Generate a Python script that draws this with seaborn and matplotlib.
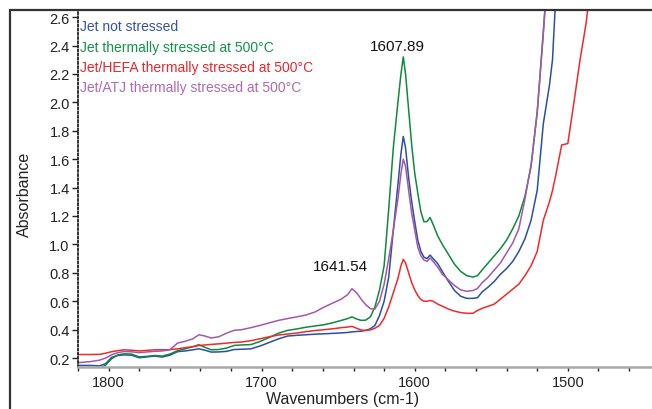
import numpy as np
import pandas as pd
import matplotlib
matplotlib.use("Agg")
import matplotlib.pyplot as plt
from matplotlib.patches import Rectangle
from matplotlib.ticker import MultipleLocator
import seaborn as sns

# wavenumber grid (cm-1)
wavenumber = [1820, 1812, 1806, 1802, 1798, 1794, 1790, 1785, 1780, 1775, 1770, 1765,
              1760, 1755, 1750, 1745, 1741, 1737, 1733, 1728, 1723, 1718, 1713, 1707,
              1701, 1695, 1689, 1683, 1677, 1671, 1665, 1659, 1653, 1648, 1644, 1641,
              1638, 1635, 1632, 1629, 1626, 1623, 1620, 1617, 1614, 1611, 1609, 1607.5,
              1606, 1604, 1602, 1600, 1598, 1596, 1594, 1592, 1590, 1588, 1585, 1582,
              1578, 1574, 1570, 1566, 1562, 1559, 1556, 1552, 1548, 1544, 1540, 1536,
              1532, 1528, 1524, 1520, 1516, 1512, 1510, 1508, 1504, 1500, 1496, 1492,
              1488, 1484]

nan = np.nan
jet_not_stressed = [0.148, 0.148, 0.145, 0.16, 0.205, 0.218, 0.222, 0.22, 0.202, 0.208, 0.214, 0.207,
                    0.22, 0.245, 0.25, 0.258, 0.265, 0.255, 0.242, 0.243, 0.247, 0.26, 0.262, 0.265,
                    0.285, 0.31, 0.335, 0.355, 0.36, 0.364, 0.368, 0.371, 0.374, 0.377, 0.38, 0.384,
                    0.387, 0.389, 0.395, 0.406, 0.43, 0.5, 0.6, 0.77, 1.1, 1.42, 1.64, 1.76,
                    1.68, 1.47, 1.3, 1.16, 1.03, 0.95, 0.91, 0.9, 0.925, 0.9, 0.865, 0.81,
                    0.74, 0.675, 0.635, 0.62, 0.62, 0.625, 0.665, 0.7, 0.74, 0.79, 0.83, 0.88,
                    0.95, 1.04, 1.17, 1.38, 1.85, 2.12, 2.3, 2.72, 3.4, nan, nan, nan,
                    nan, nan]
jet_stressed = [0.12, 0.12, 0.125, 0.15, 0.195, 0.222, 0.23, 0.228, 0.208, 0.212, 0.218, 0.214,
                0.228, 0.252, 0.265, 0.28, 0.294, 0.275, 0.258, 0.26, 0.27, 0.289, 0.292, 0.295,
                0.317, 0.345, 0.375, 0.395, 0.405, 0.417, 0.426, 0.435, 0.45, 0.465, 0.477, 0.49,
                0.475, 0.465, 0.467, 0.49, 0.56, 0.68, 0.85, 1.25, 1.68, 2.0, 2.2, 2.32,
                2.2, 1.95, 1.7, 1.5, 1.36, 1.23, 1.16, 1.16, 1.19, 1.14, 1.06, 1.0,
                0.93, 0.86, 0.81, 0.78, 0.77, 0.78, 0.82, 0.87, 0.92, 0.97, 1.03, 1.11,
                1.2, 1.34, 1.55, 1.93, 2.5, 3.1, nan, nan, nan, nan, nan, nan,
                nan, nan]
hefa_stressed = [0.225, 0.225, 0.226, 0.234, 0.245, 0.252, 0.258, 0.255, 0.25, 0.254, 0.258, 0.258,
                 0.259, 0.265, 0.273, 0.28, 0.288, 0.292, 0.296, 0.3, 0.305, 0.31, 0.313, 0.322,
                 0.336, 0.35, 0.362, 0.369, 0.376, 0.386, 0.394, 0.4, 0.407, 0.414, 0.418, 0.423,
                 0.41, 0.397, 0.395, 0.398, 0.41, 0.43, 0.48, 0.56, 0.66, 0.76, 0.85, 0.895,
                 0.87, 0.8, 0.73, 0.68, 0.64, 0.612, 0.6, 0.6, 0.605, 0.6, 0.58, 0.565,
                 0.545, 0.53, 0.52, 0.515, 0.515, 0.535, 0.55, 0.565, 0.58, 0.615, 0.65, 0.685,
                 0.72, 0.78, 0.85, 0.95, 1.17, 1.3, 1.38, 1.48, 1.7, 1.71, 2.0, 2.3,
                 2.56, 2.95]
atj_stressed = [0.167, 0.175, 0.185, 0.2, 0.223, 0.238, 0.246, 0.244, 0.238, 0.243, 0.247, 0.25,
                0.258, 0.305, 0.318, 0.335, 0.364, 0.355, 0.341, 0.35, 0.375, 0.395, 0.4, 0.414,
                0.43, 0.448, 0.465, 0.478, 0.49, 0.503, 0.525, 0.56, 0.59, 0.615, 0.645, 0.688,
                0.66, 0.615, 0.575, 0.548, 0.545, 0.6, 0.72, 0.9, 1.1, 1.32, 1.5, 1.6,
                1.55, 1.38, 1.22, 1.1, 0.98, 0.92, 0.89, 0.88, 0.905, 0.88, 0.84, 0.79,
                0.75, 0.71, 0.68, 0.67, 0.675, 0.69, 0.73, 0.77, 0.82, 0.87, 0.94, 1.01,
                1.11, 1.32, 1.56, 1.93, 2.48, 3.1, nan, nan, nan, nan, nan, nan,
                nan, nan]

labels = ["Jet not stressed",
          "Jet thermally stressed at 500°C",
          "Jet/HEFA thermally stressed at 500°C",
          "Jet/ATJ thermally stressed at 500°C"]
colors = ["#2B4FA6", "#0E8A3C", "#EE2A2A", "#A458A8"]
text_colors = ["#3352A8", "#149348", "#E8282C", "#B06AB3"]

frames = []
for lab, vals in zip(labels, [jet_not_stressed, jet_stressed, hefa_stressed, atj_stressed]):
    frames.append(pd.DataFrame({"wavenumber": wavenumber, "absorbance": vals, "sample": lab}))
df = pd.concat(frames).dropna()

sns.set_theme(style="white")
plt.rcParams["font.family"] = ["Liberation Sans", "DejaVu Sans"]

fig = plt.figure(figsize=(6.52, 4.10), dpi=100)
ax = fig.add_axes([78 / 652, 1 - 368 / 410, 1 - 78 / 652, (368 - 11) / 410])

sns.lineplot(data=df, x="wavenumber", y="absorbance", hue="sample", hue_order=labels,
             palette=dict(zip(labels, colors)), estimator=None, linewidth=1.1, ax=ax)

ax.set_xlim(1820, 1445)
ax.set_ylim(0.137, 2.65)
ax.xaxis.set_major_locator(MultipleLocator(100))
ax.xaxis.set_minor_locator(MultipleLocator(20))
ax.yaxis.set_major_locator(MultipleLocator(0.2))
ax.yaxis.set_major_formatter(matplotlib.ticker.FormatStrFormatter("%.1f"))

ax.tick_params(axis="x", which="both", direction="out", length=3, width=1, color="#222222",
               bottom=True, labelsize=10.5, pad=3, labelcolor="#222222")
ax.tick_params(axis="y", which="major", direction="out", length=4, width=1, color="#222222",
               left=True, labelsize=10.5, pad=2, labelcolor="#222222")

for s in ["top", "right"]:
    ax.spines[s].set_visible(False)
ax.spines["bottom"].set_color("#a8a8a8")
ax.spines["bottom"].set_linewidth(1.8)
ax.spines["left"].set_color("#222222")
ax.spines["left"].set_linestyle((0, (1, 1.3)))
ax.spines["left"].set_linewidth(1.3)

ax.set_xlabel("Wavenumbers (cm-1)", fontsize=11.5, color="#222222")
ax.set_ylabel("Absorbance", fontsize=11.5, color="#222222")
ax.xaxis.set_label_coords((343 - 78) / 574, (368 - 392) / 357)
ax.yaxis.set_label_coords((32 - 78) / 574, (368 - 194) / 357)

leg = ax.legend(loc="upper left", bbox_to_anchor=(0.004, 0.974), frameon=False,
                handlelength=0, handletextpad=0, borderaxespad=0, borderpad=0,
                labelspacing=0.45, fontsize=10)
for h in leg.legend_handles:
    h.set_visible(False)
for t, c in zip(leg.get_texts(), text_colors):
    t.set_color(c)

ax.text(1611.3, 2.40, "1607.89", ha="center", va="center", fontsize=11, color="#111111")
ax.text(1648.4, 0.847, "1641.54", ha="center", va="center", fontsize=11, color="#111111")

# outer frame (left and top edges visible)
fig.patches.append(Rectangle((10 / 652, -0.05), 1.0, 1.05 - 11 / 410, fill=False,
                             edgecolor="#333333", linewidth=1.6, transform=fig.transFigure))

fig.savefig("out.png", dpi=100)
